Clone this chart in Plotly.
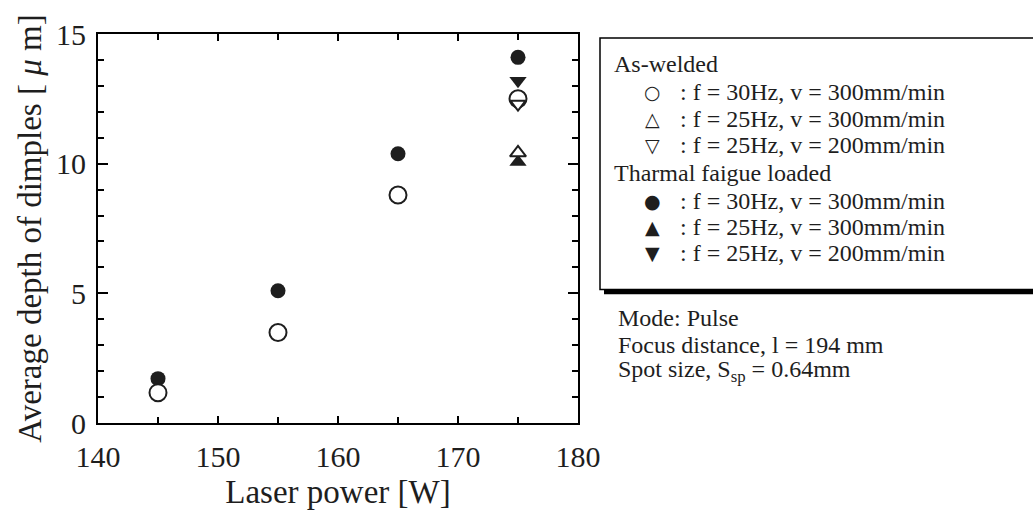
import plotly.graph_objects as go

# Laser power settings [W]
power_all = [145, 155, 165, 175]
power_175 = [175]

# Average depth of dimples [um]
aw_30hz_300 = [1.17, 3.49, 8.79, 12.5]      # as-welded, f=30Hz, v=300mm/min
aw_25hz_300 = [10.42]                        # as-welded, f=25Hz, v=300mm/min
aw_25hz_200 = [12.3]                         # as-welded, f=25Hz, v=200mm/min
tf_30hz_300 = [1.71, 5.1, 10.38, 14.1]      # thermal fatigue, f=30Hz, v=300mm/min
tf_25hz_300 = [10.06]                        # thermal fatigue, f=25Hz, v=300mm/min
tf_25hz_200 = [13.2]                         # thermal fatigue, f=25Hz, v=200mm/min

legend_rows = [
    ("As-welded", None),
    ("○", ": f = 30Hz, v = 300mm/min"),
    ("△", ": f = 25Hz, v = 300mm/min"),
    ("▽", ": f = 25Hz, v = 200mm/min"),
    ("Tharmal faigue loaded", None),
    ("●", ": f = 30Hz, v = 300mm/min"),
    ("▲", ": f = 25Hz, v = 300mm/min"),
    ("▼", ": f = 25Hz, v = 200mm/min"),
]
conditions = [
    "Mode: Pulse",
    "Focus distance, l = 194 mm",
    "Spot size, S<sub>sp</sub> = 0.64mm",
]

W, H = 1033, 516
L, R, T, B = 98, 455, 34, 83
SERIF = "Liberation Serif, Times New Roman, serif"
INK = "#1e1e1e"


def px(x):
    return (x - L) / (W - L - R)


def py(y):
    return 1 - (y - T) / (H - T - B)


fig = go.Figure()

def add(xs, ys, symbol, size, filled):
    marker = dict(symbol=symbol, size=size, color=INK if filled else "white",
                  line=dict(color=INK, width=2 if not filled else 0))
    fig.add_trace(go.Scatter(x=xs, y=ys, mode="markers", marker=marker,
                             showlegend=False, hoverinfo="skip"))

add(power_all, tf_30hz_300, "circle", 15, True)
add(power_175, tf_25hz_300, "triangle-up", 15, True)
add(power_175, tf_25hz_200, "triangle-down", 15, True)
add(power_175, aw_25hz_300, "triangle-up", 14, False)
add(power_all, aw_30hz_300, "circle", 17, False)
add(power_175, aw_25hz_200, "triangle-down", 13, False)

# legend panel with drop shadow
fig.add_shape(type="rect", xref="paper", yref="paper",
              x0=px(604), x1=px(1045), y0=py(42), y1=py(301),
              fillcolor="black", line=dict(width=0), layer="below")
fig.add_shape(type="rect", xref="paper", yref="paper",
              x0=px(600), x1=px(1040), y0=py(38), y1=py(296),
              fillcolor="white", line=dict(color="black", width=1.5), layer="below")

TXT = 24
row_y = [65, 93, 121, 148, 177, 205, 232, 259]
for (sym, txt), yy in zip(legend_rows, row_y):
    if txt is None:
        fig.add_annotation(x=px(612), y=py(yy), xref="paper", yref="paper",
                           text=sym, showarrow=False, xanchor="left", yanchor="middle",
                           font=dict(family=SERIF, size=TXT, color=INK))
    else:
        fig.add_annotation(x=px(652), y=py(yy), xref="paper", yref="paper",
                           text=sym, showarrow=False, xanchor="center", yanchor="middle",
                           font=dict(family="DejaVu Sans", size=19, color=INK))
        fig.add_annotation(x=px(678), y=py(yy), xref="paper", yref="paper",
                           text=txt, showarrow=False, xanchor="left", yanchor="middle",
                           font=dict(family=SERIF, size=TXT, color=INK))

for txt, yy in zip(conditions, [325, 353, 380]):
    fig.add_annotation(x=px(616), y=py(yy), xref="paper", yref="paper",
                       text=txt, showarrow=False, xanchor="left", yanchor="middle",
                       font=dict(family=SERIF, size=TXT, color=INK))

axis_common = dict(showgrid=False, zeroline=False, showline=True, linecolor="black",
                   linewidth=2, mirror="ticks", ticks="inside", tickcolor="black",
                   tickwidth=2, tickfont=dict(family=SERIF, size=30, color=INK))

fig.update_xaxes(range=[140, 180], dtick=10, tick0=140, ticklen=7,
                 minor=dict(dtick=5, ticks="inside", ticklen=6, tickcolor="black", tickwidth=2),
                 ticklabelstandoff=6,
                 title=dict(text="Laser power [W]", standoff=8,
                            font=dict(family=SERIF, size=33, color=INK)),
                 **axis_common)
fig.update_yaxes(range=[0, 15], dtick=5, tick0=0, ticklen=10,
                 minor=dict(dtick=1, ticks="inside", ticklen=6, tickcolor="black", tickwidth=2),
                 ticklabelstandoff=4,
                 title=dict(text="Average depth of dimples [ <i>μ</i> m]", standoff=4,
                            font=dict(family=SERIF, size=33, color=INK)),
                 **axis_common)

fig.update_layout(width=W, height=H, margin=dict(l=L, r=R, t=T, b=B),
                  plot_bgcolor="white", paper_bgcolor="white")

fig.write_html("out.html")
